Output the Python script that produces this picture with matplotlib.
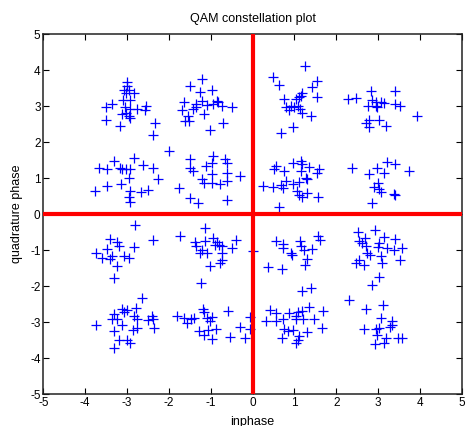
import numpy as np
import matplotlib.pyplot as plt

plt.rcParams['font.family'] = ['Liberation Sans', 'DejaVu Sans']
plt.rcParams['axes.unicode_minus'] = False

# received symbols
inphase = [
    # (-3, 3)
    -3.00, -2.99, -3.08, -2.96, -2.83, -3.02, -3.10, -2.92, -3.36, -3.50, -3.04, -2.92,
    -2.75, -2.54, -2.58, -3.12, -2.96, -2.92, -3.50, -3.16, -2.33, -2.39, -3.02,
    # (-1, 3)
    -1.20, -1.50, -0.96, -1.26, -1.63, -1.34, -1.22, -0.94, -0.82, -0.74, -0.48, -1.69,
    -1.42, -1.34, -1.10, -1.16, -1.54, -1.62, -1.51, -0.71, -1.02, -0.86,
    # (1, 3)
    1.25, 0.48, 0.62, 1.55, 1.43, 1.19, 1.16, 1.53, 0.76, 1.04, 1.12, 0.80, 0.92,
    0.86, 1.08, 1.13, 1.17, 1.39, 0.96, 0.68, 1.00,
    # (3, 3)
    2.82, 3.41, 2.28, 2.48, 2.86, 2.94, 3.06, 3.14, 2.76, 2.94, 3.41, 3.53, 2.98,
    3.94, 2.78, 3.03, 2.70, 2.78, 3.20,
    # (-3, 1)
    -1.99, -3.67, -3.49, -3.30, -3.16, -3.12, -3.02, -2.94, -2.84, -2.62, -2.38, -2.96,
    -2.25, -3.77, -3.49, -3.14, -2.92, -2.96, -2.92, -2.66, -2.49,
    # (-1, 1)
    -1.50, -1.50, -1.43, -1.12, -0.94, -0.96, -0.67, -0.62, -0.60, -0.31, -0.98, -1.22,
    -1.16, -0.96, -0.78, -0.61, -1.75, -1.50, -1.30, -0.62,
    # (1, 1)
    0.56, 0.52, 0.76, 0.96, 1.16, 1.19, 1.34, 1.16, 1.59, 1.55, 1.28, 1.31, 1.12,
    0.24, 0.50, 0.68, 0.80, 0.96, 0.72, 1.06, 1.10, 1.19, 1.31, 1.57, 0.62,
    # (3, 1)
    2.38, 2.78, 2.98, 3.21, 3.41, 3.14, 3.73, 3.00, 2.90, 3.02, 3.06, 3.37, 3.41, 2.86,
    # (-3, -1)
    -2.80, -3.40, -3.24, -3.20, -2.83, -3.75, -3.49, -3.59, -3.41, -3.36, -3.08, -2.96,
    -3.24, -3.32,
    # (-1, -1)
    -2.37, -1.73, -1.14, -1.38, -1.34, -1.14, -0.94, -0.86, -0.80, -0.90, -0.74, -0.39,
    -0.48, -1.26, -1.10, -1.22, -0.74, -0.74, -0.78, -1.02, -1.24, 0.00,
    # (1, -1)
    0.56, 0.72, 0.72, 1.13, 1.16, 1.24, 1.42, 1.57, 1.62, 0.92, 0.94, 1.29, 1.26,
    0.38, 0.71, 1.18, 1.39,
    # (3, -1)
    2.52, 2.92, 2.68, 2.54, 2.61, 3.14, 3.41, 3.02, 2.70, 3.00, 3.21, 3.37, 3.56,
    2.74, 2.80, 3.06, 2.54, 2.46, 2.66, 3.10, 3.53, 3.02, 2.86,
    # (-3, -3)
    -2.64, -3.12, -3.00, -2.78, -3.08, -3.30, -2.84, -3.36, -3.24, -2.76, -3.75, -3.12,
    -2.49, -2.41, -2.37, -2.75, -2.86, -2.35, -3.32, -3.20, -2.99, -2.94, -3.32,
    # (-1, -3)
    -1.81, -1.64, -1.57, -1.46, -1.40, -1.19, -1.16, -1.10, -0.98, -1.02, -0.59, -1.28,
    -1.16, -1.06, -0.88, -0.98, -0.55, -0.31, -0.17, -0.05, -0.05,
    # (1, -3)
    1.35, 0.42, 0.56, 0.88, 1.08, 1.19, 1.69, 0.31, 0.55, 0.72, 1.04, 1.21, 1.47,
    1.04, 0.76, 0.84, 0.96, 1.31, 1.67, 0.70, 1.12, 1.08, 1.04,
    # (3, -3)
    2.30, 2.70, 3.11, 3.08, 3.33, 3.32, 3.29, 2.66, 2.94, 2.98, 3.18, 3.14, 2.92,
    3.48, 3.56, 3.02,
]
quadrature = [
    # (-3, 3)
    3.66, 3.57, 3.45, 3.45, 3.36, 3.36, 3.17, 3.17, 3.06, 2.96, 2.96, 2.92,
    2.92, 3.00, 2.89, 2.78, 2.73, 2.68, 2.61, 2.45, 2.54, 2.20, 2.82,
    # (-1, 3)
    3.75, 3.56, 3.45, 3.38, 3.10, 3.07, 3.15, 3.07, 3.10, 3.01, 2.98, 2.89,
    2.92, 2.98, 3.04, 2.79, 2.73, 2.59, 2.59, 2.54, 2.33, 3.13,
    # (1, 3)
    4.12, 3.80, 3.58, 3.70, 3.52, 3.36, 3.29, 3.24, 3.19, 3.19, 3.24, 2.96, 2.99,
    2.90, 2.99, 2.92, 2.82, 2.71, 2.43, 2.25, 2.96,
    # (3, 3)
    3.43, 3.43, 3.19, 3.21, 3.18, 3.12, 3.10, 3.08, 3.01, 3.01, 3.06, 3.01, 2.96,
    2.73, 2.62, 2.62, 2.53, 2.43, 2.45,
    # (-3, 1)
    1.75, 1.29, 1.26, 1.48, 1.29, 1.25, 1.25, 1.26, 1.57, 1.36, 1.27, 1.01,
    0.97, 0.64, 0.78, 0.84, 0.64, 0.48, 0.33, 0.61, 0.67,
    # (-1, 1)
    1.54, 1.29, 1.20, 1.34, 1.60, 1.43, 1.54, 1.41, 1.15, 1.06, 1.11, 0.98,
    0.87, 0.86, 0.83, 0.92, 0.73, 0.45, 0.31, 0.39,
    # (1, 1)
    1.34, 1.25, 1.20, 1.43, 1.48, 1.38, 1.32, 1.20, 1.25, 1.15, 1.01, 0.97, 0.89,
    0.78, 0.76, 0.80, 0.92, 0.83, 0.73, 0.64, 0.52, 0.48, 0.59, 0.48, 0.20,
    # (3, 1)
    1.27, 1.11, 1.27, 1.45, 1.38, 1.15, 1.20, 0.87, 0.76, 0.69, 0.61, 0.55, 0.52, 0.31,
    # (-3, -1)
    -0.31, -0.70, -0.79, -0.90, -0.93, -1.09, -0.97, -1.23, -1.25, -1.16, -1.16, -1.23,
    -1.44, -1.78,
    # (-1, -1)
    -0.72, -0.60, -0.39, -0.79, -0.90, -0.76, -0.67, -0.79, -0.86, -0.86, -0.90, -0.73,
    -0.95, -1.07, -1.07, -1.01, -1.09, -1.27, -1.35, -1.44, -1.92, -1.03,
    # (1, -1)
    -0.76, -0.83, -0.95, -0.76, -0.90, -0.99, -0.97, -0.62, -0.72, -1.09, -1.13, -1.25, -1.41,
    -1.48, -1.53, -2.15, -2.06,
    # (3, -1)
    -0.51, -0.45, -0.67, -0.76, -0.81, -0.64, -0.70, -0.81, -0.90, -0.92, -0.95, -0.99, -0.95,
    -1.07, -1.13, -1.16, -1.27, -1.36, -1.41, -1.35, -1.27, -1.75, -1.97,
    # (-3, -3)
    -2.33, -2.64, -2.67, -2.61, -2.73, -2.77, -2.82, -2.92, -2.92, -2.92, -3.07, -3.07,
    -2.95, -2.84, -2.92, -3.17, -3.21, -3.17, -3.26, -3.49, -3.49, -3.58, -3.72,
    # (-1, -3)
    -2.82, -2.89, -3.03, -2.92, -2.89, -2.65, -2.73, -2.89, -2.86, -2.98, -2.70, -3.26,
    -3.35, -3.23, -3.19, -3.47, -3.42, -3.14, -3.45, -2.86, -3.19,
    # (1, -3)
    -2.58, -2.67, -2.75, -2.75, -2.73, -2.70, -2.70, -2.98, -2.98, -2.93, -2.93, -2.93, -2.93,
    -2.82, -3.19, -3.26, -3.21, -3.29, -3.17, -3.45, -3.40, -3.49, -3.57,
    # (3, -3)
    -2.40, -2.64, -2.52, -2.89, -2.98, -3.07, -3.14, -3.19, -3.19, -3.35, -3.45, -3.57, -3.60,
    -3.45, -3.45, -3.17,
]

fig = plt.figure(figsize=(4.66, 4.26), dpi=100)
ax = fig.add_axes([0.093, 0.0751, 0.898, 0.845])

ax.plot(inphase, quadrature, '+', color='#0000ff', markersize=7.5, markeredgewidth=0.9)
ax.axhline(0, color='red', linewidth=3.0, zorder=3)
ax.axvline(0, color='red', linewidth=3.0, zorder=3)

ax.set_xlim(-5, 5)
ax.set_ylim(-5, 5)
ax.set_xticks(np.arange(-5, 6, 1))
ax.set_yticks(np.arange(-5, 6, 1))
ax.tick_params(direction='in', length=4, width=0.8, labelsize=8.5, pad=2,
               top=True, right=True)
for s in ax.spines.values():
    s.set_linewidth(1.1)
    s.set_color('#222222')

ax.set_title('QAM constellation plot', fontsize=9, pad=9)
ax.set_xlabel('inphase', fontsize=9, labelpad=5)
ax.set_ylabel('quadrature phase', fontsize=9, labelpad=5)

fig.savefig('out.png', dpi=100)
